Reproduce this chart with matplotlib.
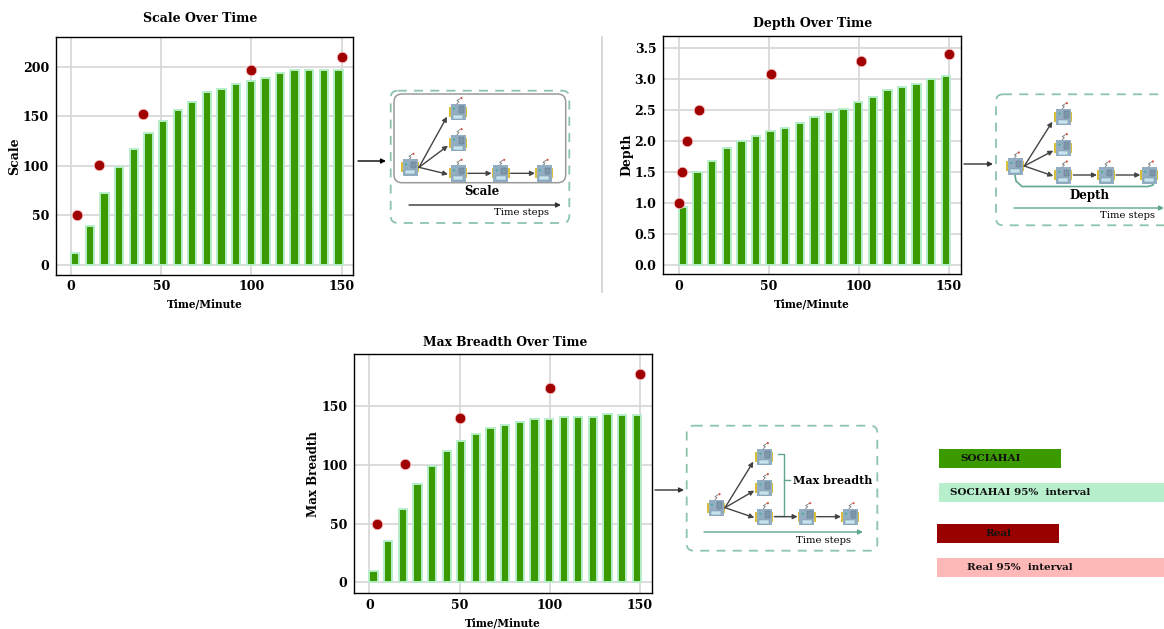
import numpy as np
import matplotlib
matplotlib.use("Agg")
import matplotlib.pyplot as plt
from matplotlib.patches import FancyBboxPatch, Rectangle, Circle

W, H = 1164, 629
plt.rcParams['font.family'] = ['DejaVu Serif']
plt.rcParams['font.weight'] = 'bold'
plt.rcParams['axes.labelweight'] = 'bold'

# bar positions are the same on all three panels
bar_x = [2.4, 10.5, 18.6, 26.7, 34.8, 42.9, 51.0, 59.1, 67.2, 75.3, 83.4, 91.5,
         99.6, 107.7, 115.8, 123.9, 132.0, 140.1, 148.2]

scale_bars = [12, 39, 73, 99, 117, 133, 145, 156, 164, 174, 178, 183, 186, 189, 194, 197, 197, 197, 197]
scale_real_x = [3.5, 15.5, 40, 100, 150]
scale_real_y = [50, 101, 152, 197, 210]

depth_bars = [0.93, 1.5, 1.67, 1.89, 2.0, 2.08, 2.16, 2.2, 2.28, 2.38, 2.46, 2.52,
              2.62, 2.71, 2.82, 2.87, 2.92, 2.99, 3.04]
depth_real_x = [0, 2, 4.5, 11.5, 51, 101, 150]
depth_real_y = [1.0, 1.5, 2.0, 2.5, 3.07, 3.29, 3.4]

breadth_bars = [10, 35, 62, 84, 99, 112, 120, 126, 131, 134, 136, 139, 139, 141, 141, 141, 143, 142, 142]
breadth_real_x = [4, 20, 50, 100, 150]
breadth_real_y = [50, 101, 140, 165, 177]

x_ticks = [0, 50, 100, 150]
scale_ticks = [0, 50, 100, 150, 200]
depth_ticks = [0.0, 0.5, 1.0, 1.5, 2.0, 2.5, 3.0, 3.5]
breadth_ticks = [0, 50, 100, 150]

GREEN = "#3a9a00"
LIGHT = "#b7eecb"
RED = "#a00000"
PINK = "#ffb8b8"
TEAL = "#8cc4ac"
ARROW = "#5fa68c"

fig = plt.figure(figsize=(W / 100, H / 100), dpi=100)


def panel(box, xr, yr, bars, rx, ry, yticks, title, ylabel, fmt, title_xy, title_size, ylab_size):
    # box = left, right, top, bottom in pixels, xr/yr = pixel pos of two known values
    l, r, t, b = box
    ax = fig.add_axes([l / W, 1 - b / H, (r - l) / W, (b - t) / H])
    (x0px, x1px), (y0px, y1px, y1val) = xr, yr
    k = 150 / (x1px - x0px)
    ax.set_xlim((l - x0px) * k, (r - x0px) * k)
    ky = y1val / (y0px - y1px)
    ax.set_ylim((y0px - b) * ky, (y0px - t) * ky)
    ax.set_axisbelow(True)
    ax.grid(True, color="#d9d9d9", lw=1.3)
    ax.bar(bar_x, bars, width=4.6, color=GREEN, edgecolor=LIGHT, linewidth=1.4, zorder=2)
    ax.scatter(rx, ry, s=58, color=RED, edgecolor="#f6c9c9", linewidth=0.6, zorder=3, clip_on=False)
    ax.set_xticks(x_ticks)
    ax.set_yticks(yticks)
    ax.set_yticklabels([fmt % v for v in yticks])
    ax.tick_params(length=0, labelsize=9, pad=5)
    ax.tick_params(axis="x", pad=4)
    for s in ax.spines.values():
        s.set_linewidth(1.0)
    ax.set_xlabel("Time/Minute", fontsize=7.6, labelpad=4)
    ax.set_ylabel(ylabel, fontsize=ylab_size, labelpad=1)
    fig.text(title_xy[0] / W, 1 - title_xy[1] / H, title, fontsize=title_size, ha="center", va="center")
    return ax


panel((56, 353.3, 36.7, 274.7), (71, 341.7), (265, 66.7, 200), scale_bars, scale_real_x, scale_real_y,
      scale_ticks, "Scale Over Time", "Scale", "%d", (200, 19), 9, 9)
panel((663.3, 960.7, 36, 274.3), (678.7, 949), (265, 47.7, 3.5), depth_bars, depth_real_x, depth_real_y,
      depth_ticks, "Depth Over Time", "Depth", "%.1f", (813, 24), 9, 9)
panel((354.3, 651.7, 354, 593.3), (369.3, 640), (582.3, 406, 150), breadth_bars, breadth_real_x, breadth_real_y,
      breadth_ticks, "Max Breadth Over Time", "Max Breadth", "%d", (505, 342), 8.8, 8.6)

# overlay in pixel coords for the diagrams and the legend
ov = fig.add_axes([0, 0, 1, 1], zorder=5)
ov.set_xlim(0, W)
ov.set_ylim(H, 0)
ov.axis("off")
ov.patch.set_alpha(0)


def robot(x, y):
    ov.add_patch(Rectangle((x - 9, y - 5), 18, 10, color="#d9bf3a", lw=0, zorder=6))
    ov.add_patch(Rectangle((x - 7.5, y - 8), 15, 16.5, color="#93aec2", lw=0, zorder=7))
    ov.add_patch(Rectangle((x - 5, y + 3), 10, 4, facecolor="#c7e3ee", edgecolor="#6f8a9c", lw=0.3, zorder=8))
    ov.add_patch(Rectangle((x + 0.5, y - 5.5), 5.5, 6.5, facecolor="#7f97aa", edgecolor="#5b7183", lw=0.3, zorder=8))
    ov.add_patch(Circle((x - 4, y - 3), 1.0, color="#35b08a", lw=0, zorder=8))
    ov.plot([x - 1, x + 1, x - 1, x + 2], [y - 8, y - 10, y - 11, y - 13], color="#777777", lw=0.6, zorder=6)
    ov.add_patch(Circle((x + 3.5, y - 13.5), 1.1, color="#d0533f", lw=0, zorder=8))


def arrow(x0, y0, x1, y1, color="#444444", lw=1.0):
    ov.annotate("", xy=(x1, y1), xytext=(x0, y0), zorder=9,
                arrowprops=dict(arrowstyle="-|>", color=color, lw=lw, mutation_scale=7, shrinkA=0, shrinkB=0))


def tree(ox, oy, root, upper, mid, row, row2, row3):
    # coordinates read in 3x zoom, offset by crop origin
    p = lambda a, b: (ox + a / 3, oy + b / 3)
    pts = [p(*root), p(*upper), p(*mid), p(*row), p(*row2), p(*row3)]
    for q in pts:
        robot(*q)
    rx, ry = pts[0]
    arrow(rx + 9, ry, pts[1][0] - 11, pts[1][1] + 5)
    arrow(rx + 9, ry, pts[2][0] - 10, pts[2][1] + 3)
    arrow(rx + 9, ry, pts[3][0] - 10, pts[3][1] + 1)
    arrow(pts[3][0] + 10, pts[3][1], pts[4][0] - 9, pts[4][1])
    arrow(pts[4][0] + 10, pts[4][1], pts[5][0] - 9, pts[5][1])


def dashed(l, r, t, b):
    ov.add_patch(FancyBboxPatch((l + 5, t + 5), r - l - 10, b - t - 10, boxstyle="round,pad=5,rounding_size=7",
                                fill=False, edgecolor=TEAL, lw=1.3, ls=(0, (5, 4)), clip_on=True))


# scale diagram
arrow(358, 161, 386, 161, "black")
dashed(390.7, 569.3, 90.7, 223)
ov.add_patch(FancyBboxPatch((401, 101), 157.7, 74.7, boxstyle="round,pad=7,rounding_size=8",
                            fill=False, edgecolor="#9a9a9a", lw=1.1))
tree(350, 80, (180, 262), (324, 95), (324, 188), (324, 280), (452, 280), (582, 280))
ov.text(481.5, 191.5, "Scale", fontsize=8.5, ha="center", va="center")
arrow(409, 205, 561, 205, "#333333")
ov.text(522, 212.7, "Time steps", fontsize=7.2, ha="center", va="center", fontweight="normal")

# depth diagram, runs off the right edge
arrow(964, 164, 993, 164, "#333333")
dashed(996, 1185, 94.3, 225.3)
tree(960, 80, (166, 258), (310, 110), (310, 203), (310, 285), (438, 285), (568, 285))
ov.plot([1015, 1016, 1022, 1148, 1153, 1154], [175, 181, 186.5, 186.5, 185, 181], color=ARROW, lw=1.2, zorder=5)
ov.text(1089, 195, "Depth", fontsize=8.5, ha="center", va="center")
arrow(1014, 208, 1164, 208, ARROW)
ov.text(1127.5, 215.7, "Time steps", fontsize=7.2, ha="center", va="center", fontweight="normal")

# breadth diagram
arrow(655, 490, 684, 490, "#333333")
dashed(686.7, 877.3, 425.7, 550.7)
tree(650, 420, (198, 263), (343, 110), (343, 203), (343, 290), (470, 290), (600, 290))
ov.plot([777.5, 783.5, 783.5, 775], [453.5, 453.5, 515.5, 515.5], color=ARROW, lw=1.0, zorder=5)
ov.plot([783.5, 789.5], [480, 480], color=ARROW, lw=1.0, zorder=5)
ov.text(832.5, 480, "Max breadth", fontsize=8, ha="center", va="center")
arrow(704, 532, 863, 532, ARROW)
ov.text(823, 540.5, "Time steps", fontsize=7.2, ha="center", va="center", fontweight="normal")

# legend, drawn as blocks
ov.add_patch(Rectangle((939, 449.3), 122, 18.3, color=GREEN, lw=0))
ov.add_patch(Rectangle((939, 483.3), 225, 18.3, color=LIGHT, lw=0))
ov.add_patch(Rectangle((937, 524.3), 122, 18.3, color="#990000", lw=0))
ov.add_patch(Rectangle((937, 558.3), 227, 18.3, color=PINK, lw=0))
ov.text(991, 458.5, "SOCIAHAI", fontsize=7.5, ha="center", va="center", color="#111111")
ov.text(950.5, 492.5, "SOCIAHAI 95%  interval", fontsize=7.5, ha="left", va="center", color="#111111")
ov.text(998, 533.5, "Real", fontsize=7.5, ha="center", va="center", color="#111111")
ov.text(967, 567.5, "Real 95%  interval", fontsize=7.5, ha="left", va="center", color="#111111")

# separator between the two top panels
ov.plot([601.5, 601.5], [37, 292], color="#cfcfcf", lw=1.2)

fig.savefig("out.png", dpi=100)
